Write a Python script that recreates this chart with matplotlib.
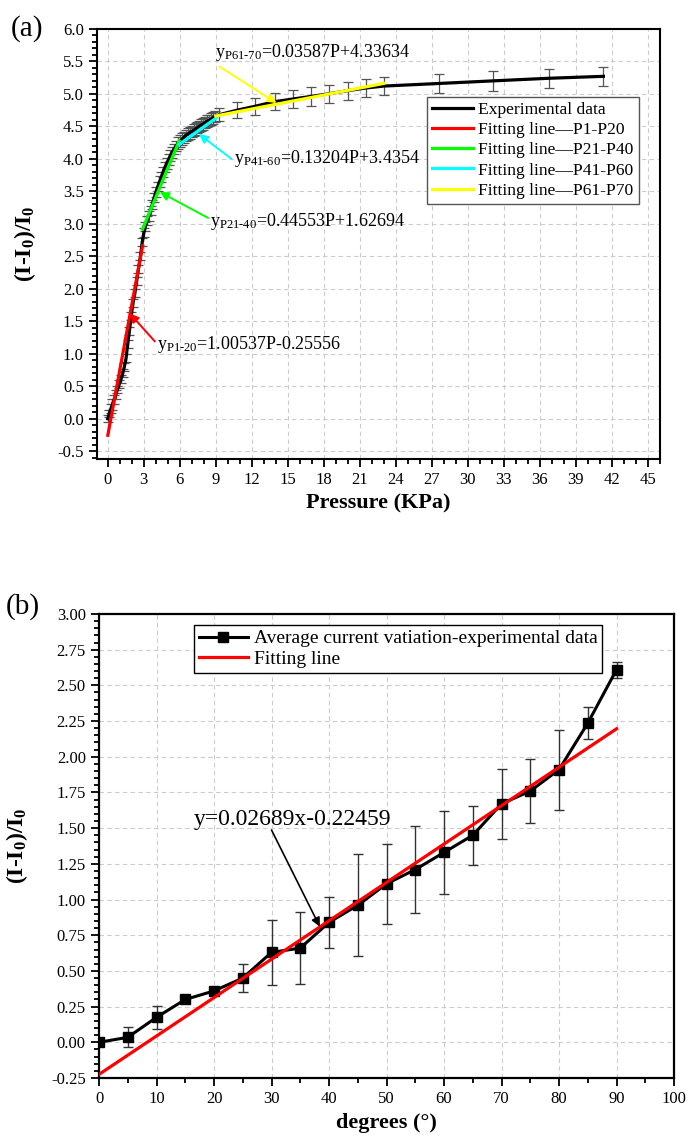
import matplotlib
matplotlib.use("Agg")
import matplotlib.pyplot as plt
from matplotlib.ticker import MultipleLocator
import numpy as np

plt.rcParams["font.family"] = ["Liberation Serif", "DejaVu Serif"]
plt.rcParams["mathtext.fontset"] = "custom"
plt.rcParams["mathtext.rm"] = "Liberation Serif"
plt.rcParams["mathtext.it"] = "Liberation Serif:italic"
plt.rcParams["mathtext.bf"] = "Liberation Serif:bold"

# ---- panel (a): pressure response ----
pressure = [0.00, 0.12, 0.25, 0.38, 0.52, 0.66, 0.80, 0.95, 1.10, 1.24,
            1.38, 1.52, 1.66, 1.80, 1.95, 2.10, 2.25, 2.40, 2.55, 2.72,
            2.87, 3.00, 3.13, 3.27, 3.41, 3.56, 3.71, 3.86, 4.01, 4.16,
            4.31, 4.46, 4.61, 4.76, 4.91, 5.06, 5.21, 5.37, 5.53, 5.70,
            5.87, 6.03, 6.19, 6.35, 6.51, 6.67, 6.83, 6.99, 7.15, 7.31,
            7.47, 7.63, 7.79, 7.95, 8.11, 8.27, 8.43, 8.59, 8.75, 8.92,
            9.3, 10.8, 12.3, 13.9, 15.4, 16.9, 18.4, 20.0, 21.5, 23.0,
            27.6, 32.1, 36.75, 41.3]
response = [0.00, 0.08, 0.15, 0.22, 0.29, 0.37, 0.45, 0.53, 0.61, 0.70,
            0.80, 0.93, 1.15, 1.35, 1.58, 1.78, 1.93, 2.12, 2.30, 2.50,
            2.72, 2.86, 2.96, 3.05, 3.12, 3.21, 3.30, 3.40, 3.49, 3.57,
            3.65, 3.72, 3.80, 3.87, 3.93, 3.99, 4.05, 4.10, 4.15, 4.20,
            4.24, 4.27, 4.30, 4.33, 4.36, 4.38, 4.40, 4.42, 4.44, 4.46,
            4.48, 4.50, 4.52, 4.54, 4.56, 4.58, 4.59, 4.61, 4.63, 4.65,
            4.68, 4.75, 4.81, 4.88, 4.92, 4.96, 5.00, 5.05, 5.09, 5.12,
            5.16, 5.20, 5.24, 5.27]
response_err = [0.05, 0.06, 0.07, 0.08, 0.07, 0.07, 0.06, 0.06, 0.06, 0.06,
                0.06, 0.06, 0.06, 0.06, 0.06, 0.06, 0.06, 0.06, 0.06, 0.06,
                0.06, 0.07, 0.07, 0.07, 0.07, 0.07, 0.07, 0.07, 0.07, 0.07,
                0.08, 0.08, 0.08, 0.08, 0.08, 0.08, 0.08, 0.08, 0.08, 0.08,
                0.09, 0.09, 0.09, 0.09, 0.09, 0.09, 0.09, 0.09, 0.09, 0.09,
                0.09, 0.09, 0.09, 0.09, 0.09, 0.09, 0.09, 0.09, 0.09, 0.09,
                0.10, 0.12, 0.13, 0.13, 0.14, 0.14, 0.14, 0.14, 0.14, 0.14,
                0.15, 0.15, 0.15, 0.15]

fit_labels = ["Fitting line\u2014P1-P20", "Fitting line\u2014P21-P40",
              "Fitting line\u2014P41-P60", "Fitting line\u2014P61-P70"]
fit_slope = [1.00537, 0.44553, 0.13204, 0.03587]
fit_icept = [-0.25556, 1.62694, 3.4354, 4.33634]
fit_from = [0.0, 2.9, 5.94, 9.0]
fit_to = [2.9, 5.94, 9.06, 23.0]
fit_colors = ["#ff0000", "#00ff00", "#00ffff", "#ffff00"]
fit_texts = [r"y$_{\mathrm{P1\text{-}20}}$=1.00537P-0.25556",
             r"y$_{\mathrm{P21\text{-}40}}$=0.44553P+1.62694",
             r"y$_{\mathrm{P41\text{-}60}}$=0.13204P+3.4354",
             r"y$_{\mathrm{P61\text{-}70}}$=0.03587P+4.33634"]
text_pos = [(4.06, 1.08), (8.5, 2.96), (10.5, 3.93), (8.9, 5.57)]
arrow_tail = [(3.92, 1.19), (8.36, 3.09), (10.3, 4.0), (9.3, 5.42)]
arrow_head = [(1.83, 1.62), (4.33, 3.49), (7.6, 4.38), (14.06, 4.86)]

# ---- panel (b): bending angle ----
degrees = [0, 5, 10, 15, 20, 25, 30, 35, 40, 45,
           50, 55, 60, 65, 70, 75, 80, 85, 90]
variation = [0.00, 0.035, 0.175, 0.30, 0.36, 0.45, 0.63, 0.66, 0.84, 0.96,
             1.11, 1.21, 1.33, 1.45, 1.67, 1.76, 1.91, 2.235, 2.61]
variation_err = [0.0, 0.07, 0.08, 0.01, 0.03, 0.10, 0.23, 0.25, 0.18, 0.356,
                 0.278, 0.307, 0.288, 0.208, 0.243, 0.224, 0.28, 0.114, 0.056]
b_slope, b_icept = 0.02689, -0.22459

fig = plt.figure(figsize=(6.88, 11.38), dpi=100)

# ------------------------------------------------------------ (a)
ax = fig.add_axes([0.141, 0.5967, 0.818, 0.3779])
ax.errorbar(pressure, response, yerr=response_err, fmt="none",
            ecolor="#555555", elinewidth=0.9, capsize=3.8, capthick=0.9, zorder=2)
handles = []
h, = ax.plot(pressure, response, color="black", lw=2.3, zorder=3,
             label="Experimental data")
handles.append(h)
for i in range(4):
    xs = np.array([fit_from[i], fit_to[i]])
    h, = ax.plot(xs, fit_slope[i] * xs + fit_icept[i], color=fit_colors[i],
                 lw=2.3, zorder=4, label=fit_labels[i])
    handles.append(h)
    ax.annotate("", xy=arrow_head[i], xytext=arrow_tail[i],
                arrowprops=dict(arrowstyle="-|>", color=fit_colors[i], lw=1.4,
                                mutation_scale=13, shrinkA=0, shrinkB=0), zorder=5)
    ax.text(text_pos[i][0], text_pos[i][1], fit_texts[i], fontsize=13,
            va="baseline", ha="left", zorder=6)

ax.set_xlim(-0.9, 46)
ax.set_ylim(-0.62, 6.0)
ax.xaxis.set_major_locator(MultipleLocator(3))
ax.xaxis.set_minor_locator(MultipleLocator(1))
ax.yaxis.set_major_locator(MultipleLocator(0.5))
ax.yaxis.set_minor_locator(MultipleLocator(0.1))
ax.yaxis.set_major_formatter(matplotlib.ticker.FormatStrFormatter("%.1f"))
ax.grid(True, which="major", ls=(0, (4, 3)), color="#cccccc", lw=0.8)
ax.set_axisbelow(True)
ax.tick_params(which="both", direction="out", labelsize=12, width=1.3)
ax.tick_params(which="major", length=6)
ax.tick_params(which="minor", length=3.5)
for s in ax.spines.values():
    s.set_linewidth(1.5)
ax.set_xlabel("Pressure (KPa)", fontsize=16, fontweight="bold", labelpad=4)
ax.set_ylabel(r"(I-I$_{\mathbf{0}}$)/I$_{\mathbf{0}}$", fontsize=17,
              fontweight="bold")
ax.yaxis.set_label_coords(-0.105, 0.5)
leg = ax.legend(handles=handles, loc="upper left",
                bbox_to_anchor=(0.620, 0.915), bbox_transform=fig.transFigure,
                fontsize=12.6, frameon=True, fancybox=False, framealpha=1,
                edgecolor="#555555", handlelength=2.35, handletextpad=0.3,
                labelspacing=0.22, borderpad=0.3, borderaxespad=0)
leg.get_frame().set_linewidth(1.0)
fig.text(0.015, 0.975, "(a)", fontsize=21, va="center", ha="left")

# ------------------------------------------------------------ (b)
bx = fig.add_axes([0.1439, 0.0527, 0.8358, 0.4078])
bx.errorbar(degrees, variation, yerr=variation_err, fmt="none",
            ecolor="#333333", elinewidth=1.0, capsize=3.5, capthick=1.0, zorder=2)
h1, = bx.plot(degrees, variation, color="black", lw=2.2, marker="s",
              markersize=7, zorder=3,
              label="Average current vatiation-experimental data")
xs = np.array([degrees[0], degrees[-1]])
h2, = bx.plot(xs, b_slope * xs + b_icept, color="#ff0000", lw=2.3, zorder=4,
              label="Fitting line")
bx.annotate("", xy=(38.4, 0.81), xytext=(30.0, 1.487),
            arrowprops=dict(arrowstyle="-|>", color="black", lw=1.2,
                            mutation_scale=13, shrinkA=0, shrinkB=0), zorder=5)
bx.text(16.4, 1.52, "y=0.02689x-0.22459", fontsize=17, va="baseline",
        ha="left", zorder=6)

bx.set_xlim(0, 100)
bx.set_ylim(-0.25, 3.0)
bx.xaxis.set_major_locator(MultipleLocator(10))
bx.xaxis.set_minor_locator(MultipleLocator(5))
bx.yaxis.set_major_locator(MultipleLocator(0.25))
bx.yaxis.set_minor_locator(MultipleLocator(0.05))
bx.yaxis.set_major_formatter(matplotlib.ticker.FormatStrFormatter("%.2f"))
bx.grid(True, which="major", ls=(0, (4, 3)), color="#cccccc", lw=0.8)
bx.set_axisbelow(True)
bx.tick_params(which="both", direction="out", labelsize=12, width=1.3)
bx.tick_params(which="major", length=6)
bx.tick_params(which="minor", length=3.5)
for s in bx.spines.values():
    s.set_linewidth(1.6)
bx.set_xlabel("degrees (\u00b0)", fontsize=16, fontweight="bold", labelpad=4)
bx.set_ylabel(r"(I-I$_{\mathbf{0}}$)/I$_{\mathbf{0}}$", fontsize=17,
              fontweight="bold")
bx.yaxis.set_label_coords(-0.12, 0.5)
leg2 = bx.legend(handles=[h1, h2], loc="upper left",
                 bbox_to_anchor=(0.2824, 0.4508), bbox_transform=fig.transFigure,
                 fontsize=14, frameon=True, fancybox=False, framealpha=1,
                 edgecolor="black", handlelength=2.5, handletextpad=0.3,
                 labelspacing=0.15, borderpad=0.25, borderaxespad=0)
leg2.get_frame().set_linewidth(1.0)
fig.text(0.008, 0.467, "(b)", fontsize=21, va="center", ha="left")

fig.savefig("out.png", dpi=100)
